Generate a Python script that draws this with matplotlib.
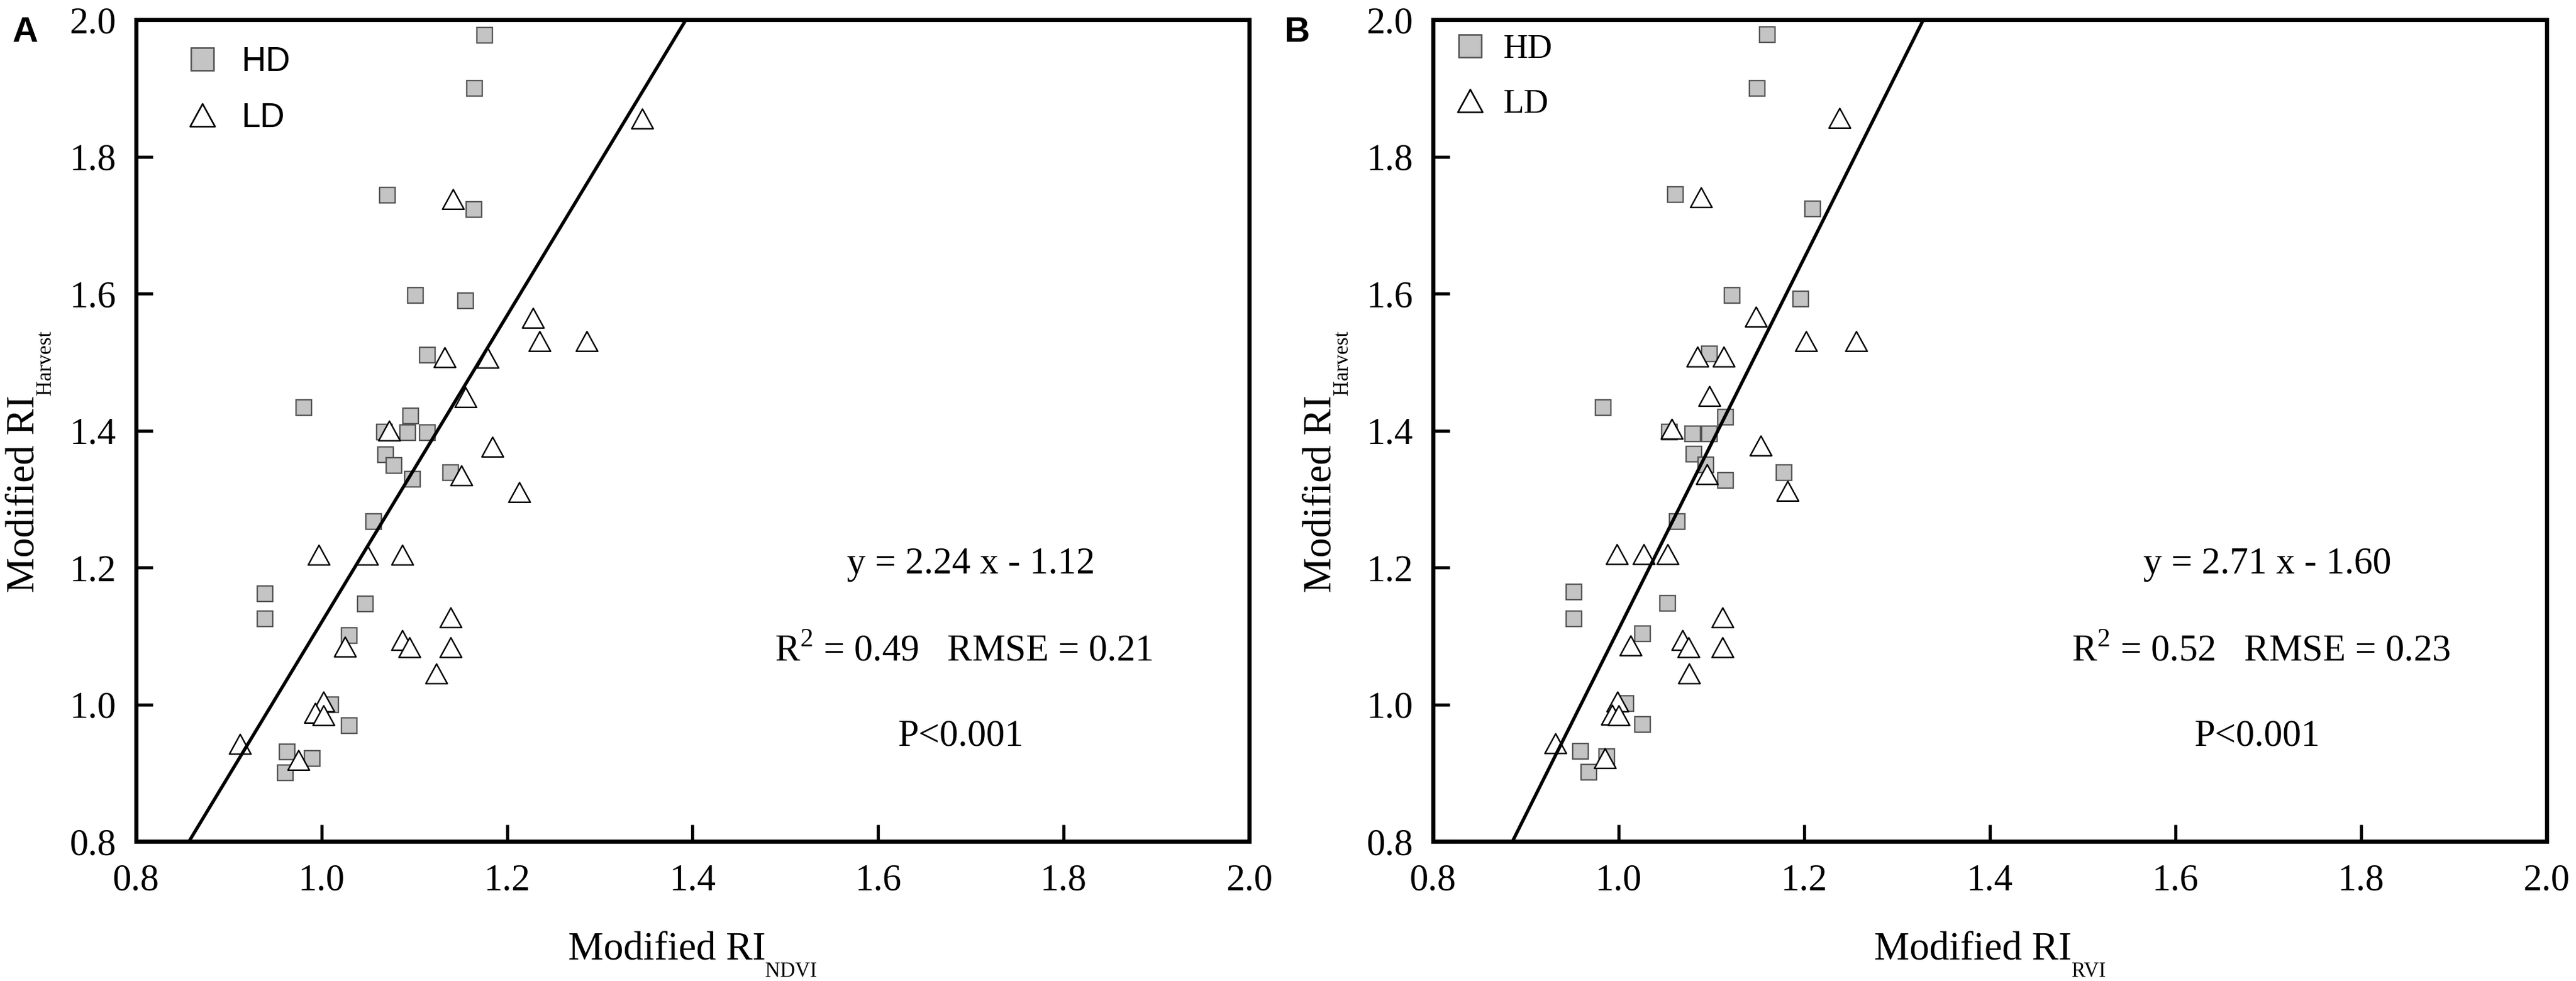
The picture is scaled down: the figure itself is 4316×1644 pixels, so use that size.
import numpy as np
import matplotlib.pyplot as plt
from matplotlib.lines import Line2D
from matplotlib.path import Path
from matplotlib.transforms import IdentityTransform

plt.rcParams['font.family'] = ['Liberation Serif', 'DejaVu Serif']
plt.rcParams['mathtext.fontset'] = 'custom'
plt.rcParams['mathtext.rm'] = 'Liberation Serif'

# panel A: Modified RI_NDVI vs Modified RI_Harvest
hd_ndvi_x = [1.176, 1.165, 1.071, 1.164, 1.101, 1.155, 1.114, 0.981, 1.096, 1.068, 1.093, 1.114, 1.069,
             1.078, 1.098, 1.139, 1.056, 0.939, 0.939, 1.047, 1.030, 1.010, 1.030, 0.963, 0.990, 0.961]
hd_ndvi_y = [1.977, 1.900, 1.744, 1.723, 1.597, 1.590, 1.510, 1.434, 1.421, 1.398, 1.397, 1.397, 1.365,
             1.349, 1.329, 1.339, 1.267, 1.162, 1.125, 1.147, 1.101, 1.000, 0.969, 0.931, 0.921, 0.900]
ld_ndvi_x = [1.346, 1.142, 1.228, 1.235, 1.286, 1.133, 1.179, 1.155, 1.073, 1.184, 1.151, 1.213, 0.997,
             1.049, 1.087, 1.139, 1.087, 1.095, 1.139, 1.025, 1.124, 1.002, 0.993, 1.002, 0.912, 0.975]
ld_ndvi_y = [1.855, 1.738, 1.564, 1.530, 1.530, 1.507, 1.506, 1.448, 1.400, 1.376, 1.334, 1.310, 1.218,
             1.218, 1.218, 1.127, 1.094, 1.083, 1.083, 1.084, 1.045, 1.004, 0.987, 0.984, 0.942, 0.919]

# panel B: Modified RI_RVI vs Modified RI_Harvest
hd_rvi_x = [1.160, 1.149, 1.061, 1.209, 1.122, 1.196, 1.098, 0.983, 1.115, 1.055, 1.080, 1.098, 1.081,
            1.094, 1.115, 1.178, 1.063, 0.952, 0.952, 1.053, 1.026, 1.008, 1.026, 0.959, 0.987, 0.968]
hd_rvi_y = [1.978, 1.900, 1.745, 1.724, 1.597, 1.592, 1.512, 1.434, 1.420, 1.398, 1.395, 1.395, 1.366,
            1.350, 1.327, 1.339, 1.267, 1.164, 1.125, 1.148, 1.103, 1.001, 0.971, 0.932, 0.924, 0.901]
ld_rvi_x = [1.238, 1.089, 1.148, 1.202, 1.256, 1.085, 1.113, 1.098, 1.057, 1.153, 1.095, 1.182, 0.998,
            1.027, 1.053, 1.112, 1.069, 1.075, 1.112, 1.013, 1.076, 0.999, 0.993, 1.000, 0.932, 0.985]
ld_rvi_y = [1.856, 1.740, 1.566, 1.530, 1.530, 1.508, 1.508, 1.450, 1.402, 1.378, 1.336, 1.312, 1.219,
            1.219, 1.219, 1.127, 1.094, 1.083, 1.083, 1.086, 1.045, 1.004, 0.985, 0.984, 0.943, 0.921]

fit_a = (2.24, -1.12)
fit_b = (2.71, -1.60)
stats_a = ['y = 2.24 x - 1.12', 'R$^{\\mathregular{2}}$ = 0.49   RMSE = 0.21', 'P<0.001']
stats_b = ['y = 2.71 x - 1.60', 'R$^{\\mathregular{2}}$ = 0.52   RMSE = 0.23', 'P<0.001']
stats_x_a = [1.700, 1.692, 1.689]
stats_x_b = [1.699, 1.692, 1.688]
stats_y = [1.191, 1.064, 0.940]
ticks = [0.8, 1.0, 1.2, 1.4, 1.6, 1.8, 2.0]

# open triangle, a bit wider than tall
tri = Path([(-1, -0.9), (1, -0.9), (0, 0.93), (-1, -0.9)], closed=True)
sq_face = '#c4c4c4'
sq_edge = '#555555'

W, H = 4316, 1644
fig = plt.figure(figsize=(W / 100, H / 100), dpi=100)
renderer = fig.canvas.get_renderer()


def sub_label(x, y, main, sub, rot=0, drop=30):
    t1 = fig.text(0, 0, main, transform=IdentityTransform(), fontsize=48, rotation=rot,
                  rotation_mode='anchor', ha='left', va='baseline')
    t2 = fig.text(0, 0, sub, transform=IdentityTransform(), fontsize=25, rotation=rot,
                  rotation_mode='anchor', ha='left', va='baseline')
    b1 = t1.get_window_extent(renderer)
    b2 = t2.get_window_extent(renderer)
    if rot == 0:
        start = x - (b1.width + b2.width) / 2
        t1.set_position((start, y))
        t2.set_position((start + b1.width, y - drop))
    else:
        start = y - (b1.height + b2.height) / 2
        t1.set_position((x, start))
        t2.set_position((x + drop, start + b1.height))


def panel(rect, hx, hy, lx, ly, fit, stats, sx, xsub, leg_font, leg_anchor, leg_pad):
    ax = fig.add_axes(rect)
    ax.plot(hx, hy, 's', ms=18.5, mfc=sq_face, mec=sq_edge, mew=1.7, zorder=3)
    ax.plot(lx, ly, marker=tri, ls='none', ms=26, mfc='white', mec='black', mew=1.8, zorder=4)
    a, b = fit
    xs = np.array([(0.8 - b) / a, (2.0 - b) / a])
    ax.plot(xs, a * xs + b, color='black', lw=4, zorder=5)
    for s, x, y in zip(stats, sx, stats_y):
        ax.text(x, y, s, ha='center', va='baseline', fontsize=45)
    ax.set_xlim(0.8, 2.0)
    ax.set_ylim(0.8, 2.0)
    ax.set_xticks(ticks)
    ax.set_yticks(ticks)
    ax.set_xticklabels(['%.1f' % t for t in ticks])
    ax.set_yticklabels(['%.1f' % t for t in ticks])
    ax.tick_params(direction='in', length=20, width=3.8, labelsize=45, top=False, right=False)
    ax.tick_params(axis='x', pad=27)
    ax.tick_params(axis='y', pad=24)
    for sp in ax.spines.values():
        sp.set_linewidth(5)
    handles = [Line2D([], [], marker='s', ls='none', ms=28, mfc=sq_face, mec=sq_edge, mew=1.9),
               Line2D([], [], marker=tri, ls='none', ms=30, mfc='white', mec='black', mew=2)]
    ax.legend(handles, ['HD', 'LD'], loc='upper left', bbox_to_anchor=leg_anchor, frameon=False,
              borderaxespad=0, borderpad=0, handlelength=1.0, handletextpad=leg_pad,
              labelspacing=0.7, prop={'family': leg_font, 'size': 41})
    pos = ax.get_position()
    left = pos.x0 * W
    sub_label(left + pos.width * W / 2, 37, 'Modified RI', xsub)
    sub_label(left - 171, 871, 'Modified RI', 'Harvest', rot=90, drop=28)
    return ax


ax_a = panel([0.0528, 0.1423, 0.4321, 0.8376], hd_ndvi_x, hd_ndvi_y, ld_ndvi_x, ld_ndvi_y,
             fit_a, stats_a, stats_x_a, 'NDVI', 'Liberation Sans', (0.0445, 0.968), 0.65)
ax_b = panel([0.5563, 0.1423, 0.4323, 0.8376], hd_rvi_x, hd_rvi_y, ld_rvi_x, ld_rvi_y,
             fit_b, stats_b, stats_x_b, 'RVI', 'Liberation Serif', (0.0182, 0.9826), 0.47)

fig.text(21, 1574, 'A', transform=IdentityTransform(), fontsize=43, fontweight='bold',
         family='Liberation Sans', va='baseline')
fig.text(2152, 1574, 'B', transform=IdentityTransform(), fontsize=43, fontweight='bold',
         family='Liberation Sans', va='baseline')

fig.savefig('out.png', dpi=100)
